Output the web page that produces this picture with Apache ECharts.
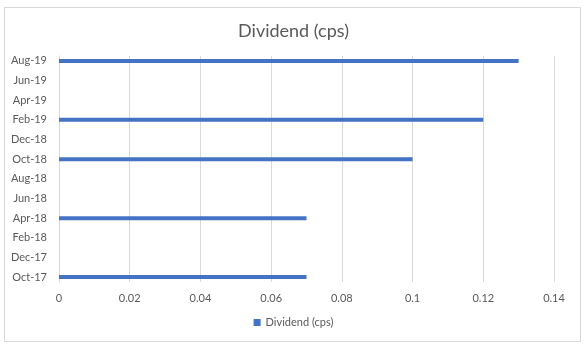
<!DOCTYPE html>
<html>
<head>
<meta charset="utf-8">
<script src="https://cdn.jsdelivr.net/npm/echarts@6/dist/echarts.min.js"></script>
<style>
  html, body { margin: 0; padding: 0; background: #fff; }
  #frame { position: absolute; left: 4px; top: 7px; width: 577px; height: 335px; border: 1px solid #d9d9d9; box-sizing: border-box; }
  #chart { position: absolute; left: 0; top: 0; width: 587px; height: 350px; }
</style>
</head>
<body>
<div id="frame"></div>
<div id="chart"></div>
<script>
// Monthly categories from Oct-17 to Aug-19
const months = ['Oct-17','Nov-17','Dec-17','Jan-18','Feb-18','Mar-18','Apr-18','May-18','Jun-18','Jul-18','Aug-18','Sep-18',
  'Oct-18','Nov-18','Dec-18','Jan-19','Feb-19','Mar-19','Apr-19','May-19','Jun-19','Jul-19','Aug-19'];
// Dividend paid per month (cents per share); null where nothing was paid
const dividend = [0.07,null,null,null,null,null,0.07,null,null,null,null,null,
  0.1,null,null,null,0.12,null,null,null,null,null,0.13];
const valueTicks = [0, 0.02, 0.04, 0.06, 0.08, 0.1, 0.12, 0.14];
const seriesName = 'Dividend (cps)';

const textColor = '#595959';
const font = 'Lato, "Open Sans", sans-serif';

const chart = echarts.init(document.getElementById('chart'), null, { renderer: 'canvas' });
chart.setOption({
  animation: false,
  title: {
    text: seriesName,
    left: 'center',
    top: 17,
    textStyle: { color: textColor, fontSize: 18, fontWeight: 'normal', fontFamily: font }
  },
  legend: {
    bottom: 17,
    left: 'center',
    itemWidth: 7,
    itemHeight: 7,
    icon: 'rect',
    textStyle: { color: textColor, fontSize: 11, fontFamily: font },
    data: [seriesName]
  },
  grid: { left: 59, right: 33, top: 56, bottom: 68, containLabel: false },
  xAxis: {
    type: 'value',
    min: valueTicks[0],
    max: valueTicks[valueTicks.length - 1],
    interval: 0.02,
    axisLine: { show: false },
    axisTick: { show: false },
    splitLine: { lineStyle: { color: '#d9d9d9', width: 1 } },
    axisLabel: { color: textColor, fontSize: 11, fontFamily: font, margin: 11 }
  },
  yAxis: {
    type: 'category',
    data: months,
    axisLine: { show: true, lineStyle: { color: '#d9d9d9' } },
    axisTick: { show: false },
    axisLabel: { interval: 1, color: textColor, fontSize: 11, fontFamily: font, margin: 12 }
  },
  series: [{
    name: seriesName,
    type: 'bar',
    data: dividend,
    barWidth: 4,
    itemStyle: { color: '#4472c4' }
  }]
});
</script>
</body>
</html>
